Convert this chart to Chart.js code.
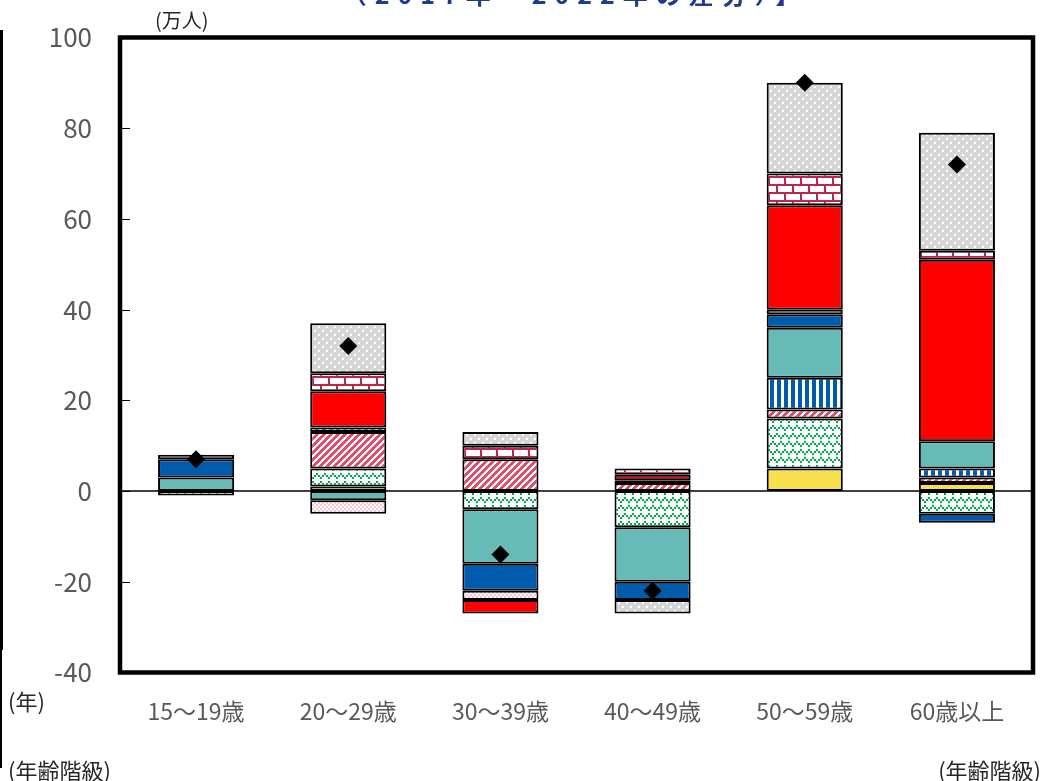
<!DOCTYPE html>
<html lang="ja">
<head>
<meta charset="utf-8">
<title>年齢階級別 就業者数の変化</title>
<script src="https://cdn.jsdelivr.net/npm/chart.js@4.4.1/dist/chart.umd.min.js"></script>
<style>
  html, body { margin: 0; padding: 0; background: #ffffff; }
  #wrap { position: relative; width: 1043px; height: 781px; overflow: hidden; font-family: "Noto Sans CJK JP", "Noto Sans", sans-serif; }
  #c { position: absolute; left: 0; top: 0; }
  .note { position: absolute; white-space: nowrap; color: #262626; line-height: 1; }
  #title { left: 0; width: 1150px; text-align: center; top: -19px; font-size: 25px; font-weight: bold; color: #1f3c8c; letter-spacing: 8px; }
  .rule { position: absolute; background: #000; }
</style>
</head>
<body>
<div id="wrap">
  <canvas id="c" width="1043" height="781"></canvas>
  <div class="note" id="title">（2017年－2022年の差分）】</div>
  <div class="note" style="left:155px; top:10px; font-size:20px;">(万人)</div>
  <div class="note" style="left:8px; top:689px; font-size:22px;">(年)</div>
  <div class="note" style="left:8px; top:758px; font-size:22px;">(年齢階級)</div>
  <div class="note" style="right:2px; top:758px; font-size:22px;">(年齢階級)</div>
  <div class="rule" style="left:0; top:30px; width:3px; height:620px;"></div>
  <div class="rule" style="left:0; top:650px; width:1.5px; height:118px;"></div>
</div>
<script>
// Age groups on the horizontal axis
const categories = ['15～19歳', '20～29歳', '30～39歳', '40～49歳', '50～59歳', '60歳以上'];

// Change per segment (万人), one value per age group
const yellowSeg  = [0, 1, 0, 0, 5, 1.8];
const zigzagSeg  = [-1, 4, -4, -8, 11, -5];
const hatchSeg   = [0, 8, 7, 1.8, 2, 1.2];
const stripeSeg  = [0, 1, 0, 0, 7, 2];
const tealSeg    = [3, -2, -12, -12, 11, 6];
const blueSeg    = [4, 0, -6, -4, 3, -2];
const paleSeg    = [0, -3, -2, 0.6, 1, 0];
const redSeg     = [0, 8, -3, 1.2, 23, 40];
const brickSeg   = [0, 4, 3, 1.4, 7, 2];
const dottedSeg  = [1, 11, 3, -3, 20, 26];

// Net change (diamond markers)
const netChange  = [7, 32, -14, -22, 90, 72];

// Value axis ticks
const yTicks = [-40, -20, 0, 20, 40, 60, 80, 100];

// ---- fill patterns ----
function tile(w, h, paint) {
  const cv = document.createElement('canvas');
  cv.width = w; cv.height = h;
  const g = cv.getContext('2d');
  paint(g, w, h);
  return document.getElementById('c').getContext('2d').createPattern(cv, 'repeat');
}

const dotted = tile(8, 8, (g) => {
  g.fillStyle = '#d6d6d6'; g.fillRect(0, 0, 8, 8);
  g.fillStyle = '#ffffff';
  g.fillRect(2, 2, 2, 2); g.fillRect(6, 6, 2, 2);
});

const brick = tile(16, 16, (g) => {
  g.fillStyle = '#ffffff'; g.fillRect(0, 0, 16, 16);
  g.fillStyle = '#c0254c';
  g.fillRect(0, 0, 16, 2); g.fillRect(0, 8, 16, 2);
  g.fillRect(0, 0, 2, 8); g.fillRect(8, 8, 2, 8);
});

const hatch = tile(7, 7, (g) => {
  g.fillStyle = '#ffffff'; g.fillRect(0, 0, 7, 7);
  g.fillStyle = '#e0506e';
  for (let x = 0; x < 7; x++) for (let y = 0; y < 7; y++) {
    if ((x + y) % 7 < 4) g.fillRect(x, y, 1, 1);
  }
});

const pale = tile(4, 4, (g) => {
  g.fillStyle = '#ffffff'; g.fillRect(0, 0, 4, 4);
  g.fillStyle = '#f7c6d0';
  g.fillRect(0, 0, 2, 2); g.fillRect(2, 2, 2, 2);
});

const stripes = tile(7, 1, (g) => {
  g.fillStyle = '#ffffff'; g.fillRect(0, 0, 7, 1);
  g.fillStyle = '#005bac'; g.fillRect(0, 0, 4, 1);
});

// stepped zigzag rows of small green squares
const zigzag = tile(16, 16, (g) => {
  g.fillStyle = '#ffffff'; g.fillRect(0, 0, 16, 16);
  g.fillStyle = '#00a651';
  for (let x = 0; x < 16; x += 2) {
    const k = x % 8;
    const d = k <= 4 ? k : 8 - k;
    g.fillRect(x, d + 1, 2, 2);
    g.fillRect((x + 4) % 16, 9 + d, 2, 2);
  }
});

function barSet(label, data, fill) {
  return {
    type: 'bar', label, data, backgroundColor: fill,
    borderColor: '#000000', borderWidth: 2, borderSkipped: false,
    barPercentage: 0.5, categoryPercentage: 1.0, order: 1, stack: 'segments'
  };
}

// Frame, inner ticks and zero line around the plotting area
const framePlugin = {
  id: 'frame',
  beforeDatasetsDraw(chart) {
    const { ctx, chartArea: a, scales: { y } } = chart;
    const y0 = y.getPixelForValue(0);
    ctx.save();
    ctx.strokeStyle = '#000000'; ctx.lineWidth = 1.5;
    ctx.beginPath(); ctx.moveTo(a.left, y0); ctx.lineTo(a.right, y0); ctx.stroke();
    ctx.restore();
  },
  afterDraw(chart) {
    const { ctx, chartArea: a, scales: { y } } = chart;
    ctx.save();
    ctx.strokeStyle = '#000000';
    ctx.lineWidth = 1;
    yTicks.forEach(v => {
      const py = Math.round(y.getPixelForValue(v)) + 0.5;
      ctx.beginPath(); ctx.moveTo(a.left, py); ctx.lineTo(a.left + 10, py); ctx.stroke();
    });
    ctx.lineWidth = 4.5;
    ctx.strokeRect(a.left, a.top, a.right - a.left, a.bottom - a.top);
    ctx.restore();
  }
};

new Chart(document.getElementById('c'), {
  data: {
    labels: categories,
    datasets: [
      barSet('黄', yellowSeg, '#f9e04e'),
      barSet('緑模様', zigzagSeg, zigzag),
      barSet('斜線', hatchSeg, hatch),
      barSet('縦縞', stripeSeg, stripes),
      barSet('青緑', tealSeg, '#66bbb6'),
      barSet('青', blueSeg, '#005bac'),
      barSet('淡桃', paleSeg, pale),
      barSet('赤', redSeg, '#ff0000'),
      barSet('れんが', brickSeg, brick),
      barSet('灰点', dottedSeg, dotted),
      {
        type: 'line', label: '合計', data: netChange, showLine: false,
        pointStyle: 'rectRot', pointRadius: 9, pointHoverRadius: 9,
        pointBackgroundColor: '#000000', pointBorderColor: '#000000', pointBorderWidth: 0,
        order: 0, stack: 'net'
      }
    ]
  },
  options: {
    responsive: false,
    animation: false,
    layout: { autoPadding: false, padding: { left: 0, right: 10, top: 37.5, bottom: 48.5 } },
    plugins: { legend: { display: false }, tooltip: { enabled: false }, title: { display: false } },
    scales: {
      x: {
        stacked: true,
        grid: { display: false, drawTicks: false },
        border: { display: false },
        ticks: { color: '#595959', font: { family: '"Noto Sans CJK JP", sans-serif', size: 23 }, padding: 25, maxRotation: 0 },
        afterFit(s) { s.height = 60; }
      },
      y: {
        stacked: true,
        min: -40, max: 100,
        afterBuildTicks(s) { s.ticks = yTicks.map(v => ({ value: v })); },
        grid: { display: false, drawTicks: false },
        border: { display: false },
        ticks: { color: '#595959', font: { family: '"Noto Sans CJK JP", sans-serif', size: 26 }, padding: 28 },
        afterFit(s) { s.width = 120; s.paddingTop = 0; s.paddingBottom = 0; }
      }
    }
  },
  plugins: [framePlugin]
});
</script>
</body>
</html>
